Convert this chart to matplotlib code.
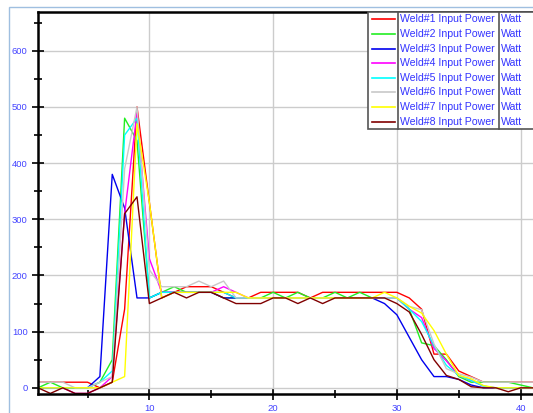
import numpy as np
import matplotlib.pyplot as plt
from matplotlib.lines import Line2D
from matplotlib.patches import Rectangle

plt.rcParams['font.family'] = ['Liberation Sans', 'DejaVu Sans']

# sample index 1..41
x = np.arange(1, 42)

weld1 = [10, 10, 10, 10, 10, 0, 10, 140, 500, 330, 160, 170, 180, 180, 180, 170, 160, 160, 170, 170,
         170, 170, 160, 170, 170, 170, 170, 170, 170, 170, 160, 140, 60, 60, 30, 20, 10, 10, 10, 10, 10]
weld2 = [0, 10, 0, 0, 0, 10, 50, 480, 440, 160, 170, 180, 170, 170, 170, 160, 160, 160, 160, 170,
         160, 170, 160, 160, 170, 160, 170, 160, 160, 160, 140, 80, 75, 50, 20, 10, 10, 10, 10, 5, 0]
weld3 = [0, 0, 0, 0, 0, 20, 380, 320, 160, 160, 170, 170, 170, 170, 170, 160, 160, 160, 160, 160,
         160, 160, 160, 160, 160, 160, 160, 160, 150, 130, 90, 50, 20, 20, 15, 5, 0, 0, 0, 0, 0]
weld4 = [0, 0, 0, -10, -10, 0, 20, 310, 490, 230, 170, 170, 170, 170, 170, 180, 170, 160, 160, 160,
         160, 160, 160, 160, 160, 160, 160, 160, 160, 160, 140, 125, 70, 48, 22, 13, 3, 0, 0, 0, 0]
weld5 = [0, 0, 0, 0, 0, 10, 30, 450, 480, 160, 170, 170, 170, 170, 170, 170, 160, 160, 160, 160,
         160, 160, 160, 160, 160, 160, 160, 160, 160, 160, 140, 118, 75, 40, 22, 13, 3, 0, 0, 0, 0]
weld6 = [10, 10, 10, 0, 0, 10, 20, 390, 500, 210, 180, 180, 180, 190, 180, 190, 160, 160, 160, 160,
         160, 160, 160, 160, 160, 160, 160, 160, 160, 160, 145, 139, 78, 34, 25, 19, 10, 10, 10, 10, 10]
weld7 = [0, 0, 0, 0, 0, 0, 10, 20, 470, 330, 160, 170, 170, 170, 170, 170, 170, 160, 160, 160,
         160, 160, 160, 160, 160, 160, 160, 160, 170, 160, 145, 133, 102, 60, 22, 16, 4, 0, 0, 0, 0]
weld8 = [0, -10, 0, -10, -10, 0, 10, 310, 340, 150, 160, 170, 160, 170, 170, 160, 150, 150, 150, 160,
         160, 150, 160, 150, 160, 160, 160, 160, 160, 150, 135, 95, 50, 22, 15, 2, 0, 0, -7, 0, 0]

series = [weld1, weld2, weld3, weld4, weld5, weld6, weld7, weld8]
labels = ["Weld#%d Input Power" % i for i in range(1, 9)]
units = ["Watt"] * 8
colors = ["#ff0000", "#22ee22", "#0000ee", "#ff00ff", "#00ffff", "#c8c8c8", "#ffff00", "#800000"]

W, H = 533, 413
fig = plt.figure(figsize=(W / 100, H / 100), dpi=100)

# light blue outer frame (only left and top visible)
fig.patches.append(Rectangle((9 / W, -0.1), 1.2, 1 - 7 / H + 0.1, transform=fig.transFigure,
                             fill=False, edgecolor="#9fbfe0", linewidth=1))

ax = fig.add_axes([38 / W, 1 - 394 / H, 1 - 38 / W, (394 - 12) / H])
for s, c in zip(series, colors):
    ax.plot(x, s, color=c, linewidth=1)

ax.set_xlim(1, 41)
ax.set_ylim(-11, 669)
ax.set_xticks([10, 20, 30, 40])
ax.set_xticks([5, 15, 25, 35], minor=True)
ax.set_yticks(np.arange(0, 700, 100))
ax.set_yticks(np.arange(50, 700, 100), minor=True)
ax.grid(True, which="major", color="#cccccc", linewidth=1)
ax.set_axisbelow(True)

for side in ["left", "top", "bottom"]:
    ax.spines[side].set_linewidth(1.8)
    ax.spines[side].set_color("black")
ax.spines["right"].set_visible(False)

ax.tick_params(which="major", direction="inout", length=9, width=1.2, colors="black",
               labelcolor="#4444ff", labelsize=6.8, pad=3)
ax.tick_params(which="minor", direction="inout", length=6, width=1.2, colors="black")

# table-style legend in the top right corner
lx0, lx1, lx2 = 368, 398, 499
ly0, ly1 = 12, 129
row_h = (ly1 - ly0) / 8
fig.patches.append(Rectangle((lx0 / W, 1 - ly1 / H), 1.2, (ly1 - ly0) / H, transform=fig.transFigure,
                             facecolor="white", edgecolor="#555555", linewidth=1.2, zorder=5))
for xs in [lx1, lx2]:
    fig.lines.append(Line2D([xs / W, xs / W], [1 - ly1 / H, 1 - ly0 / H], transform=fig.transFigure,
                            color="#555555", linewidth=1.2, zorder=6))
for i, (lab, unit, c) in enumerate(zip(labels, units, colors)):
    yc = 1 - (ly0 + row_h * (i + 0.5)) / H
    fig.lines.append(Line2D([372 / W, 395 / W], [yc, yc], transform=fig.transFigure,
                            color=c, linewidth=1.2, zorder=7))
    fig.text(400 / W, yc, lab, color="#3333ff", fontsize=7.6, va="center", ha="left", zorder=7)
    fig.text(501 / W, yc, unit, color="#3333ff", fontsize=7.6, va="center", ha="left", zorder=7)

fig.savefig("out.png", dpi=100)
